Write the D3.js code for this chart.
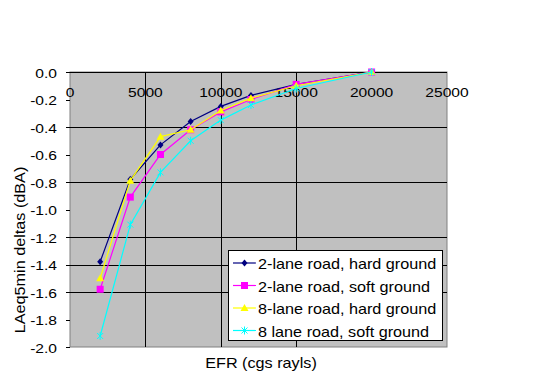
<!DOCTYPE html>
<html>
<head>
<meta charset="utf-8">
<script src="https://cdn.jsdelivr.net/npm/d3@7/dist/d3.min.js"></script>
<style>
  html, body { margin: 0; padding: 0; background: #fff; }
  svg { display: block; }
  text { font-family: "Liberation Sans", Arial, sans-serif; fill: #000; }
</style>
</head>
<body>
<div id="chart"></div>
<script>
// chart data
const efr = [2000, 4000, 6000, 8000, 10000, 12000, 15000, 20000];
const seriesNames = [
    '2-lane road, hard ground',
    '2-lane road, soft ground',
    '8-lane road, hard ground',
    '8 lane road, soft ground'
];
const twoLaneHard = [-1.38, -0.78, -0.53, -0.36, -0.25, -0.17, -0.09, 0.0];
const twoLaneSoft = [-1.58, -0.91, -0.60, -0.42, -0.29, -0.20, -0.09, 0.0];
const eightLaneHard = [-1.50, -0.79, -0.47, -0.42, -0.28, -0.19, -0.10, 0.0];
const eightLaneSoft = [-1.92, -1.11, -0.73, -0.50, -0.35, -0.24, -0.12, 0.0];
const xTicks = [0, 5000, 10000, 15000, 20000, 25000];
const yTicks = [0.0, -0.2, -0.4, -0.6, -0.8, -1.0, -1.2, -1.4, -1.6, -1.8, -2.0];
const xGrid = [5000, 10000, 15000];
const yGrid = [-0.4, -0.8, -1.2, -1.4, -1.6];

const seriesValues = [twoLaneHard, twoLaneSoft, eightLaneHard, eightLaneSoft];
const seriesColors = ['#000080', '#ff00ff', '#ffff00', '#00ffff'];
const seriesMarkers = ['diamond', 'square', 'triangle', 'star'];

const W = 547, H = 389;
const plot = { left: 70, right: 447, top: 72, bottom: 347 };

const svg = d3.select('#chart').append('svg')
    .attr('width', W)
    .attr('height', H);

const x = d3.scaleLinear().domain([0, 25000]).range([plot.left, plot.right]);
const y = d3.scaleLinear().domain([0, -2]).range([plot.top, plot.bottom]);

// text slightly widened like the original renderer
function label(parent, px, py, str, size, anchor, sx, rotate) {
    return parent.append('text')
        .attr('transform', `translate(${px},${py})` + (rotate ? ` rotate(${rotate})` : '') + ` scale(${sx},1)`)
        .attr('text-anchor', anchor)
        .attr('dominant-baseline', 'central')
        .style('font-size', size + 'px')
        .text(str);
}

// plot background
svg.append('rect')
    .attr('x', plot.left)
    .attr('y', plot.top)
    .attr('width', plot.right - plot.left)
    .attr('height', plot.bottom - plot.top)
    .attr('fill', '#c0c0c0')
    .attr('stroke', '#808080')
    .attr('stroke-width', 1);

// gridlines
svg.append('g').selectAll('line')
    .data(yGrid)
    .enter().append('line')
    .attr('x1', plot.left).attr('x2', plot.right)
    .attr('y1', d => Math.round(y(d)) + 0.5).attr('y2', d => Math.round(y(d)) + 0.5)
    .attr('stroke', '#000').attr('stroke-width', 1);

svg.append('g').selectAll('line')
    .data(xGrid)
    .enter().append('line')
    .attr('x1', d => Math.round(x(d)) + 0.5).attr('x2', d => Math.round(x(d)) + 0.5)
    .attr('y1', plot.top).attr('y2', plot.bottom)
    .attr('stroke', '#000').attr('stroke-width', 1);

// y axis ticks + labels
const yAxis = svg.append('g');
yAxis.selectAll('line')
    .data(yTicks)
    .enter().append('line')
    .attr('x1', plot.left - 4).attr('x2', plot.left)
    .attr('y1', d => Math.round(y(d)) + 0.5).attr('y2', d => Math.round(y(d)) + 0.5)
    .attr('stroke', '#000');
yTicks.forEach(v => {
    label(yAxis, 57, y(v) + 1, d3.format('.1f')(v).replace('−', '-'), 13, 'end', 1.2);
});

// x axis along the top (crosses at 0)
const xAxis = svg.append('g');
xAxis.append('line')
    .attr('x1', plot.left).attr('x2', plot.right)
    .attr('y1', plot.top + 0.5).attr('y2', plot.top + 0.5)
    .attr('stroke', '#000');
xTicks.forEach(v => {
    label(xAxis, x(v), 92, String(v), 13, 'middle', 1.2);
});

// axis titles
label(svg, 261, 363, 'EFR (cgs rayls)', 15, 'middle', 1.08);
label(svg, 20, 250, 'LAeq5min deltas (dBA)', 15, 'middle', 1.08, -90);

// marker drawing
function drawMarker(g, type, color) {
    if (type === 'diamond') {
        g.append('path').attr('d', 'M0,-3.5L3,0L0,3.5L-3,0Z').attr('fill', color);
    } else if (type === 'square') {
        g.append('rect').attr('x', -3.5).attr('y', -3.5).attr('width', 7).attr('height', 7).attr('fill', color);
    } else if (type === 'triangle') {
        g.append('path').attr('d', 'M0,-4L4,3L-4,3Z').attr('fill', color);
    } else {
        g.append('path').attr('d', 'M-3,-3L3,3M3,-3L-3,3M0,-4L0,4')
            .attr('stroke', color).attr('stroke-width', 1).attr('fill', 'none');
    }
}

const line = d3.line()
    .x((d, i) => x(efr[i]))
    .y(d => y(d));

seriesValues.forEach((vals, s) => {
    const g = svg.append('g');
    g.append('path')
        .attr('d', line(vals))
        .attr('fill', 'none')
        .attr('stroke', seriesColors[s])
        .attr('stroke-width', 1.2);
    vals.forEach((v, i) => {
        const m = g.append('g').attr('transform', `translate(${x(efr[i])},${y(v)})`);
        drawMarker(m, seriesMarkers[s], seriesColors[s]);
    });
});

// legend
const legend = svg.append('g');
legend.append('rect')
    .attr('x', 228.5).attr('y', 250.5)
    .attr('width', 214).attr('height', 90)
    .attr('fill', '#fff').attr('stroke', '#000');
seriesNames.forEach((name, s) => {
    const ly = 263 + s * 22.5;
    legend.append('line')
        .attr('x1', 233).attr('x2', 256)
        .attr('y1', ly).attr('y2', ly)
        .attr('stroke', seriesColors[s]).attr('stroke-width', 1.2);
    const m = legend.append('g').attr('transform', `translate(244.5,${ly})`);
    drawMarker(m, seriesMarkers[s], seriesColors[s]);
    label(legend, 258, ly + 1, name, 15, 'start', 1.08);
});
</script>
</body>
</html>
